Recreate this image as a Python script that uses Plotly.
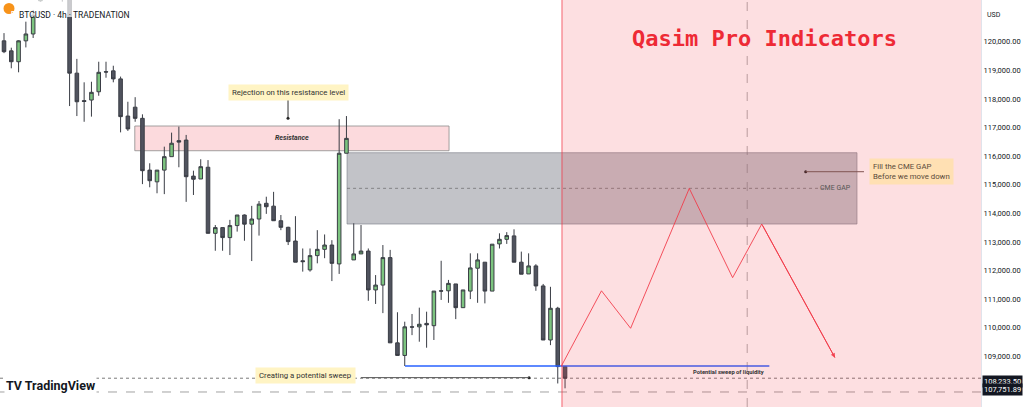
import plotly.graph_objects as go

# ---------------- data ----------------
idx = list(range(78))
opens = [120030, 119680, 119300, 120030, 120270, 121430, 121750, 122050, 121800, 121950,
         118900, 117940, 117960, 118250, 118950, 118980, 118700, 117400, 117710, 117320,
         115510, 115100, 115510, 115980, 116540, 116560, 115300, 115200, 115610, 113300,
         113500, 113150, 113570, 113940, 113620, 113800, 114350, 114250, 113740, 113510,
         113030, 112340, 112020, 112520, 112740, 112890, 112230, 116100, 112370, 112580,
         112680, 111320, 111490, 112450, 109470, 109030, 110030, 110030, 110150, 110070,
         111290, 111290, 111530, 110700, 111280, 112080, 112290, 111280, 112930, 113090,
         113210, 112290, 111880, 112160, 111460, 109570, 110680, 108640]
highs = [120300, 119790, 120050, 120700, 121110, 121900, 122250, 122300, 122100, 122050,
         119400, 118580, 118600, 119300, 119300, 119160, 118780, 117900, 118060, 117460,
         115750, 115510, 116330, 116820, 117030, 116740, 115490, 115890, 115860, 113590,
         113500, 113770, 113940, 113960, 114260, 114430, 114580, 114750, 113940, 113530,
         113900, 112770, 112770, 113410, 113260, 113060, 117290, 117400, 113650, 113590,
         112770, 111840, 112890, 112720, 110540, 110210, 110480, 110700, 110560, 111280,
         112340, 111670, 111530, 111320, 112600, 112600, 112290, 112920, 113300, 113340,
         113440, 112660, 112600, 112220, 111530, 111430, 110730, 108640]
lows = [119600, 119070, 118930, 119800, 120130, 121400, 121550, 121600, 121400, 117750,
        117400, 117200, 117380, 118110, 118740, 118580, 116830, 116880, 117200, 115020,
        114910, 114700, 114670, 115980, 115610, 114400, 114640, 115200, 113300, 112690,
        112690, 112540, 113360, 113040, 112330, 113220, 113980, 113740, 113410, 112890,
        112290, 111960, 111960, 112250, 112430, 111630, 111880, 116100, 112370, 112580,
        110940, 110830, 110510, 109470, 109030, 108660, 109740, 109510, 109300, 109570,
        110970, 110870, 110300, 110700, 111000, 110870, 110850, 111280, 112770, 112930,
        112290, 111870, 111880, 111290, 109570, 109390, 108050, 107880]
closes = [119650, 119300, 120030, 120270, 120930, 121750, 122050, 121800, 121950, 118900,
          117900, 117910, 118230, 118930, 118940, 118700, 117380, 116950, 117320, 115490,
          115140, 115510, 115980, 116450, 116490, 115280, 115190, 115630, 113300, 113500,
          113150, 113570, 113940, 113620, 113800, 114320, 114230, 113740, 113510, 113010,
          112290, 112310, 112520, 112740, 112890, 112250, 116100, 116620, 112580, 112680,
          111320, 111490, 112450, 109470, 109030, 110030, 110020, 110120, 110100, 111280,
          111280, 111550, 110700, 111320, 112090, 112370, 111280, 112920, 113090, 113220,
          112290, 111870, 112160, 111460, 109570, 110680, 108640, 108233.5]

# projected path (bar index, price)
proj_x = [76.5, 82.0, 86.0, 94.05, 100.0, 104.0, 114.05]
proj_y = [108660, 111290, 109980, 114870, 111750, 113625, 108950]

# levels / zones
res_zone = (117052, 116188)       # resistance top / bottom
cme_zone = (116118, 113625)       # CME gap top / bottom
cme_mid = 114873
sweep_level = 108659
last_price = 108233.5
other_price = 107751.89
tick_vals = [109000, 110000, 111000, 112000, 113000, 114000, 115000,
             116000, 117000, 118000, 119000, 120000]
tick_text = ["{:,.2f}".format(v) for v in tick_vals]

# ---------------- figure ----------------
W, H = 1024, 407
PW = 981
FONT = "Roboto"
fig = go.Figure()

fig.add_trace(go.Candlestick(
    x=idx, open=opens, high=highs, low=lows, close=closes,
    increasing=dict(line=dict(color="#3a3d45", width=1), fillcolor="#7cc47f"),
    decreasing=dict(line=dict(color="#3a3d45", width=1), fillcolor="#50535e"),
    whiskerwidth=0, hoverinfo="skip", showlegend=False))

fig.add_trace(go.Scatter(x=[55.04, 105.04], y=[sweep_level, sweep_level], mode="lines",
                         line=dict(color="#2962ff", width=1.5), hoverinfo="skip", showlegend=False))

fig.add_trace(go.Scatter(x=proj_x, y=proj_y, mode="lines",
                         line=dict(color="rgba(242,54,69,0.85)", width=1),
                         hoverinfo="skip", showlegend=False))

# connector dots
fig.add_trace(go.Scatter(x=[38.98, 110.03, 72.06], y=[117322, 115454, 108254], mode="markers",
                         marker=dict(color="#222", size=3), hoverinfo="skip", showlegend=False))

shapes = []
# resistance zone
shapes.append(dict(type="rect", xref="x", yref="y", x0=17.95, x1=61.08, y0=res_zone[1], y1=res_zone[0],
                   fillcolor="#fcdadd", line=dict(color="rgba(140,140,140,0.8)", width=1), layer="below"))
# CME gap
shapes.append(dict(type="rect", xref="x", yref="y", x0=47.08, x1=117.07, y0=cme_zone[1], y1=cme_zone[0],
                   fillcolor="rgba(120,123,134,0.45)", line=dict(color="rgba(120,123,134,0.6)", width=1),
                   layer="below"))
shapes.append(dict(type="line", xref="x", yref="y", x0=47.08, x1=112.6, y0=cme_mid, y1=cme_mid,
                   line=dict(color="rgba(80,80,80,0.55)", width=1, dash="dot"), layer="below"))
# price lines
shapes.append(dict(type="line", xref="paper", yref="y", x0=0, x1=1, y0=last_price, y1=last_price,
                   line=dict(color="rgba(90,90,90,0.8)", width=1, dash="dot"), layer="below"))
shapes.append(dict(type="line", xref="paper", yref="y", x0=0, x1=1, y0=other_price, y1=other_price,
                   line=dict(color="rgba(140,140,140,0.8)", width=1, dash="dash"), layer="below"))
# dashed vertical
shapes.append(dict(type="line", xref="x", yref="paper", x0=102.0, x1=102.0, y0=0, y1=1,
                   line=dict(color="rgba(120,120,120,0.6)", width=1, dash="dash"), layer="below"))
# connector lines
shapes.append(dict(type="line", xref="x", yref="y", x0=38.98, x1=38.98, y0=117961, y1=117322,
                   line=dict(color="#333", width=1)))
shapes.append(dict(type="line", xref="x", yref="y", x0=110.03, x1=118.03, y0=115454, y1=115454,
                   line=dict(color="#6b5a55", width=1)))
shapes.append(dict(type="line", xref="x", yref="y", x0=49.0, x1=72.06, y0=108254, y1=108254,
                   line=dict(color="#555", width=1)))
# projection zone (pink, above)
shapes.append(dict(type="rect", xref="x", yref="paper", x0=76.58, x1=140, y0=0, y1=1,
                   fillcolor="rgba(242,54,69,0.16)", line=dict(width=0), layer="above"))
shapes.append(dict(type="line", xref="x", yref="paper", x0=76.58, x1=76.58, y0=0, y1=1,
                   line=dict(color="rgba(242,54,69,0.75)", width=1), layer="above"))
# title overlay
shapes.append(dict(type="rect", xref="paper", yref="paper", x0=0, x1=140 / PW, y0=1 - 17 / H, y1=1,
                   fillcolor="rgba(255,255,255,0.7)", line=dict(width=0), layer="above"))
# bitcoin icon
shapes.append(dict(type="circle", xref="paper", yref="paper", x0=3.5 / PW, x1=14.5 / PW,
                   y0=1 - 14 / H, y1=1 - 3 / H, fillcolor="#f7931a", line=dict(width=0), layer="above"))

ann = []
ann.append(dict(x=38.98, y=118241, xref="x", yref="y", text="Rejection on this resistance level",
                showarrow=False, font=dict(family=FONT, size=7.8, color="#333"),
                bgcolor="#fff4c4", borderpad=3))
ann.append(dict(x=39.5, y=116620, xref="x", yref="y", text="<b><i>Resistance</i></b>",
                showarrow=False, font=dict(family=FONT, size=7, color="#333")))
ann.append(dict(x=116.5, y=cme_mid, xref="x", yref="y", text="CME GAP", xanchor="right",
                showarrow=False, font=dict(family=FONT, size=7, color="#555")))
ann.append(dict(x=124.5, y=115454, xref="x", yref="y", text="Fill the CME GAP<br>Before we move down",
                align="left", showarrow=False, font=dict(family=FONT, size=7.8, color="#5a4a3a"),
                bgcolor="#ffe0b3", borderpad=3))
ann.append(dict(x=99.5, y=108460, xref="x", yref="y", text="<b>Potential sweep of liquidity</b>",
                showarrow=False, font=dict(family=FONT, size=5.8, color="#333")))
ann.append(dict(x=41.31, y=108327, xref="x", yref="y", text="Creating a potential sweep",
                showarrow=False, font=dict(family=FONT, size=7.8, color="#333"),
                bgcolor="#fff4c4", borderpad=3))
ann.append(dict(x=104.4, y=120119, xref="x", yref="y", text="<b>Qasim Pro Indicators</b>",
                showarrow=False, font=dict(family="DejaVu Sans Mono", size=22, color="#ee2a35")))
# arrow head of projected path
ann.append(dict(x=proj_x[-1], y=proj_y[-1], ax=proj_x[-2], ay=proj_y[-2], xref="x", yref="y",
                axref="x", ayref="y", text="", showarrow=True, arrowhead=2, arrowsize=0.9,
                arrowwidth=1, arrowcolor="rgba(242,54,69,0.85)", standoff=0))
# header
ann.append(dict(x=9 / PW, y=1 - 8.5 / H, xref="paper", yref="paper", text="<b>B</b>", showarrow=False,
                font=dict(family=FONT, size=7, color="white")))
ann.append(dict(x=17 / PW, y=1 - 8.5 / H, xref="paper", yref="paper", xanchor="left",
                text="BTCUSD · 4h · TRADENATION", showarrow=False,
                font=dict(family=FONT, size=8.5, color="#131722")))
# TradingView logo
ann.append(dict(x=4 / PW, y=1 - 395 / H, xref="paper", yref="paper", xanchor="left",
                text="<b>TV TradingView</b>", showarrow=False, bgcolor="white",
                font=dict(family=FONT, size=12.5, color="#131722")))
# axis header and price labels
ann.append(dict(x=985 / PW, y=1 - 9 / H, xref="paper", yref="paper", xanchor="left", text="USD",
                showarrow=False, font=dict(family=FONT, size=7, color="#131722")))
ann.append(dict(x=982 / PW, y=1 - 388 / H, xref="paper", yref="paper", xanchor="left",
                text="{:,.2f}".format(last_price),
                showarrow=False, bgcolor="#131722", borderpad=1,
                font=dict(family=FONT, size=7.5, color="white")))
ann.append(dict(x=982 / PW, y=1 - 395.5 / H, xref="paper", yref="paper", xanchor="left",
                text="{:,.2f}".format(other_price),
                showarrow=False, bgcolor="#131722", borderpad=1,
                font=dict(family=FONT, size=7.5, color="white")))

fig.update_layout(
    width=W, height=H, margin=dict(l=0, r=W - PW, t=0, b=0),
    paper_bgcolor="white", plot_bgcolor="white",
    shapes=shapes, annotations=ann, showlegend=False,
    xaxis=dict(range=[-0.55, 134.09], visible=False, rangeslider=dict(visible=False), fixedrange=True),
    yaxis=dict(range=[107227, 121458], side="right", tickvals=tick_vals, ticktext=tick_text,
               tickfont=dict(family=FONT, size=7.5, color="#131722"), showgrid=False, zeroline=False,
               ticks="", showline=True, linecolor="#e0e3eb", fixedrange=True),
    font=dict(family=FONT),
)

fig.write_html("out.html", config={"displayModeBar": False},
               post_script="document.body.style.margin='0';document.body.style.overflow='hidden';")
